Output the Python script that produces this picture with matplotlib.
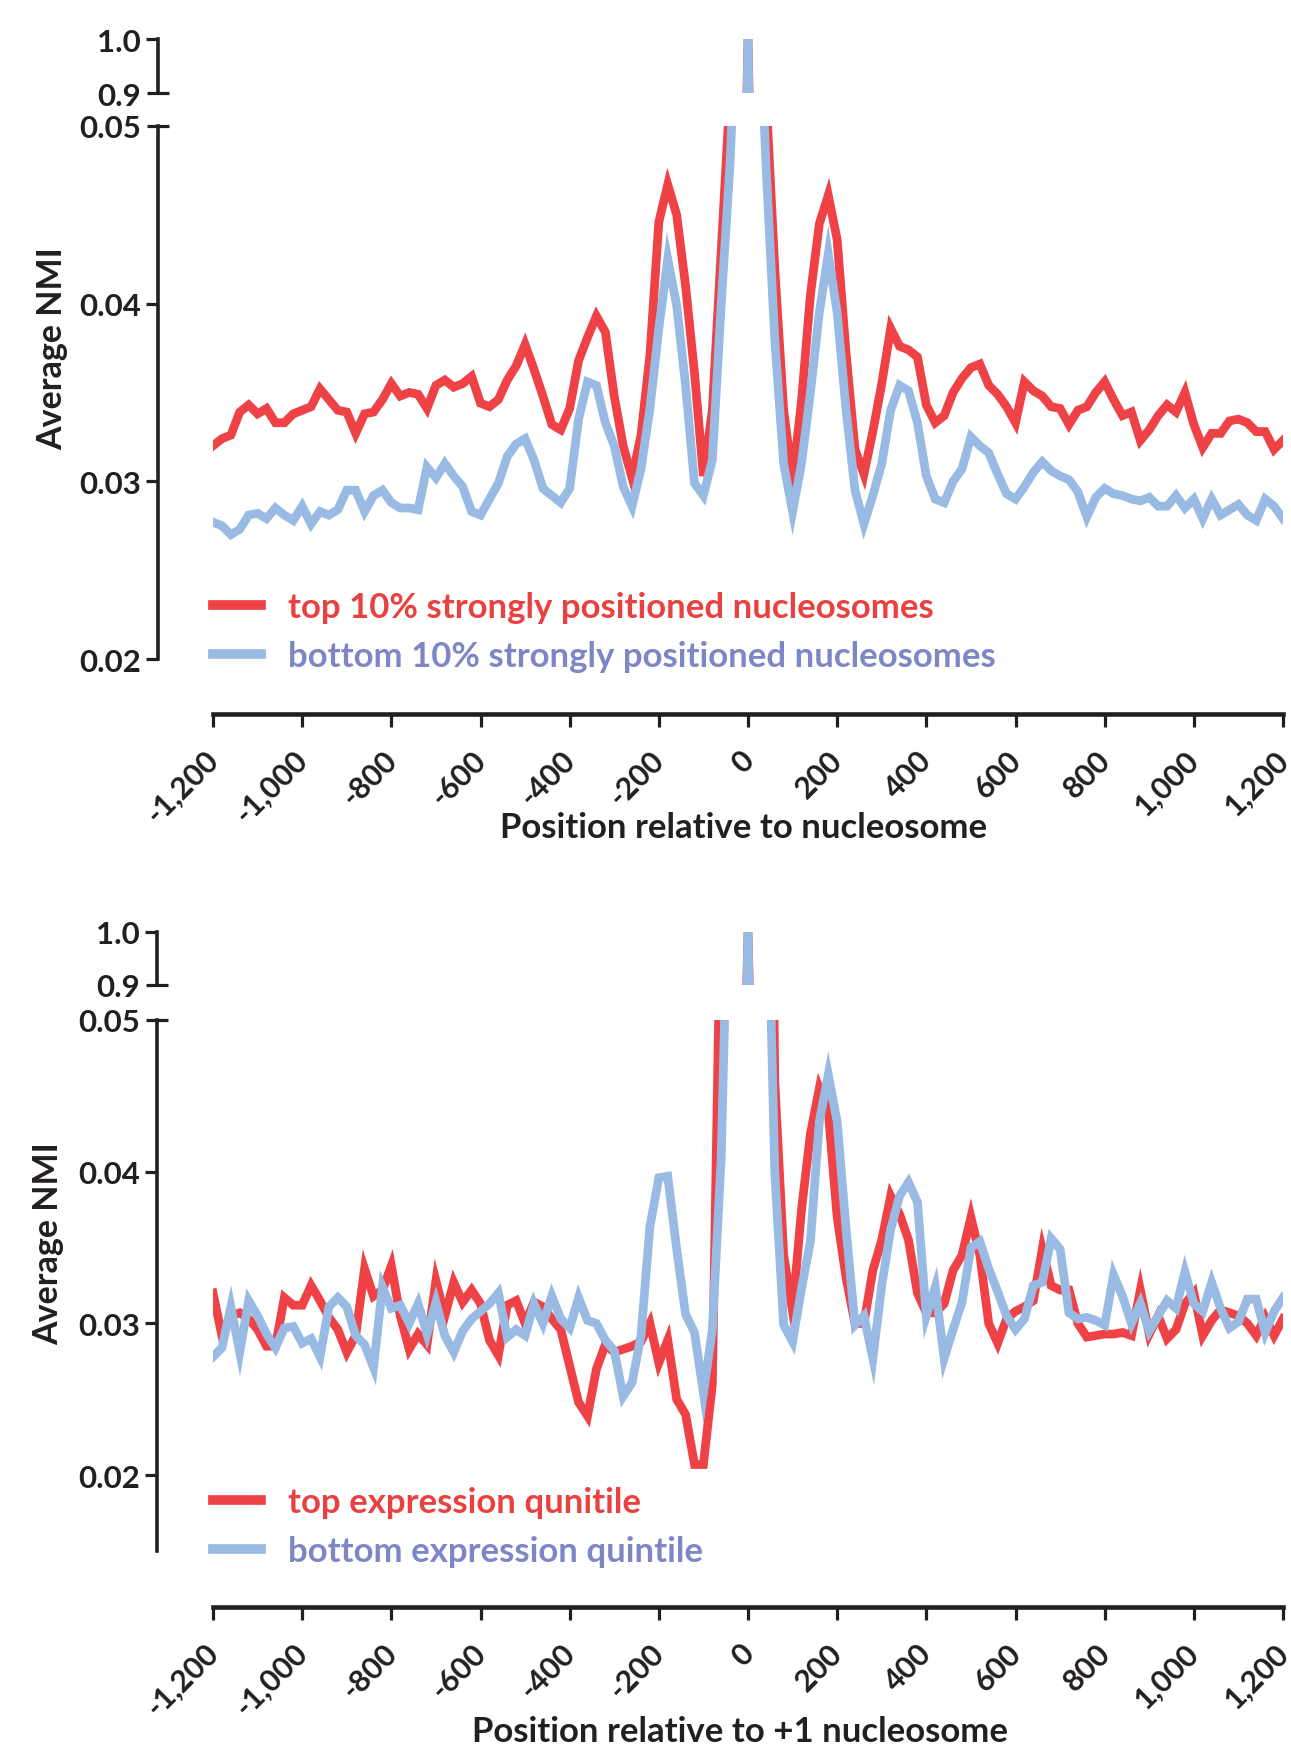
import matplotlib
matplotlib.use("Agg")
import matplotlib.pyplot as plt
import numpy as np
from matplotlib.transforms import ScaledTranslation

# ---------------- data ----------------
positions = np.arange(-1200, 1201, 20)
x_ticks = [-1200, -1000, -800, -600, -400, -200, 0, 200, 400, 600, 800, 1000, 1200]
x_tick_labels = [f"{v:,}" for v in x_ticks]

top_red = [
    0.0320, 0.0324, 0.0326, 0.0339, 0.0343, 0.0338, 0.0341, 0.0333, 0.0333, 0.0338,
    0.0340, 0.0342, 0.0352, 0.0346, 0.0340, 0.0339, 0.0327, 0.0338, 0.0339, 0.0346,
    0.0355, 0.0348, 0.0350, 0.0349, 0.0341, 0.0354, 0.0357, 0.0353, 0.0355, 0.0359,
    0.0344, 0.0342, 0.0346, 0.0357, 0.0365, 0.0377, 0.0363, 0.0348, 0.0332, 0.0329,
    0.0341, 0.0368, 0.0381, 0.0393, 0.0384, 0.0348, 0.0320, 0.0302, 0.0326, 0.0371,
    0.0446, 0.0467, 0.0450, 0.0410, 0.0361, 0.0303, 0.0340, 0.0430, 0.0520, 0.2,
    1.0,
    0.2, 0.052, 0.042, 0.034, 0.0301, 0.0345, 0.0405, 0.0445, 0.0461, 0.0436,
    0.0372, 0.0318, 0.0304, 0.0328, 0.0355, 0.0386, 0.0376, 0.0374, 0.0370, 0.0343,
    0.0333, 0.0337, 0.0350, 0.0358, 0.0364, 0.0366, 0.0354, 0.0349, 0.0342, 0.0333,
    0.0356, 0.0351, 0.0348, 0.0342, 0.0341, 0.0332, 0.0340, 0.0342, 0.0350, 0.0356,
    0.0346, 0.0337, 0.0339, 0.0323, 0.0329, 0.0337, 0.0343, 0.0339, 0.0350, 0.0332,
    0.0319, 0.0327, 0.0327, 0.0334, 0.0335, 0.0333, 0.0328, 0.0328, 0.0318, 0.0323,
]
top_blue = [
    0.0277, 0.0275, 0.0270, 0.0273, 0.0281, 0.0282, 0.0279, 0.0285, 0.0281, 0.0278,
    0.0286, 0.0276, 0.0283, 0.0281, 0.0284, 0.0295, 0.0295, 0.0283, 0.0292, 0.0295,
    0.0288, 0.0285, 0.0285, 0.0284, 0.0308, 0.0302, 0.0310, 0.0303, 0.0297, 0.0283,
    0.0281, 0.0290, 0.0299, 0.0314, 0.0321, 0.0324, 0.0312, 0.0296, 0.0292, 0.0288,
    0.0296, 0.0335, 0.0356, 0.0354, 0.0333, 0.0320, 0.0297, 0.0286, 0.0307, 0.0341,
    0.0386, 0.0425, 0.0399, 0.0354, 0.0299, 0.0292, 0.0312, 0.0400, 0.0480, 0.06,
    1.0,
    0.06, 0.048, 0.038, 0.0310, 0.0283, 0.0310, 0.0350, 0.0395, 0.0428, 0.0395,
    0.0340, 0.0295, 0.0276, 0.0292, 0.0310, 0.0340, 0.0354, 0.0351, 0.0333, 0.0303,
    0.0290, 0.0288, 0.0300, 0.0307, 0.0325, 0.0320, 0.0316, 0.0304, 0.0293, 0.0290,
    0.0297, 0.0305, 0.0311, 0.0306, 0.0303, 0.0301, 0.0294, 0.0280, 0.0291, 0.0296,
    0.0293, 0.0292, 0.0290, 0.0289, 0.0291, 0.0286, 0.0286, 0.0292, 0.0285, 0.0290,
    0.0279, 0.0290, 0.0281, 0.0284, 0.0287, 0.0281, 0.0278, 0.0290, 0.0286, 0.0279,
]
bottom_red = [
    0.0320, 0.0292, 0.0305, 0.0307, 0.0303, 0.0296, 0.0285, 0.0285, 0.0317, 0.0312,
    0.0312, 0.0325, 0.0315, 0.0304, 0.0296, 0.0281, 0.0292, 0.0336, 0.0318, 0.0322,
    0.0338, 0.0305, 0.0283, 0.0293, 0.0286, 0.0328, 0.0305, 0.0327, 0.0314, 0.0322,
    0.0313, 0.0289, 0.0279, 0.0312, 0.0315, 0.0300, 0.0314, 0.0311, 0.0303, 0.0296,
    0.0272, 0.0248, 0.0239, 0.0270, 0.0286, 0.0281, 0.0283, 0.0285, 0.0288, 0.0300,
    0.0274, 0.0289, 0.0250, 0.0240, 0.0207, 0.0207, 0.0260, 0.060, 0.15, 0.3,
    1.0,
    0.3, 0.10, 0.046, 0.0345, 0.0308, 0.0375, 0.0425, 0.0455, 0.0440, 0.0370,
    0.0330, 0.0300, 0.0300, 0.0335, 0.0355, 0.0384, 0.0372, 0.0355, 0.0320, 0.0307,
    0.0307, 0.0313, 0.0335, 0.0345, 0.0370, 0.0345, 0.0300, 0.0287, 0.0303, 0.0308,
    0.0311, 0.0315, 0.0349, 0.0325, 0.0322, 0.0322, 0.0300, 0.0291, 0.0292, 0.0293,
    0.0293, 0.0294, 0.0292, 0.0322, 0.0293, 0.0305, 0.0290, 0.0296, 0.0313, 0.0320,
    0.0292, 0.0302, 0.0309, 0.0307, 0.0305, 0.0300, 0.0292, 0.0304, 0.0292, 0.0303,
]
bottom_blue = [
    0.0278, 0.0284, 0.0311, 0.0281, 0.0315, 0.0305, 0.0293, 0.0284, 0.0297, 0.0298,
    0.0287, 0.0290, 0.0278, 0.0311, 0.0317, 0.0311, 0.0292, 0.0286, 0.0271, 0.0324,
    0.0310, 0.0312, 0.0300, 0.0313, 0.0293, 0.0314, 0.0292, 0.0281, 0.0295, 0.0303,
    0.0308, 0.0313, 0.0320, 0.0291, 0.0296, 0.0292, 0.0313, 0.0300, 0.0318, 0.0303,
    0.0297, 0.0317, 0.0302, 0.0300, 0.0289, 0.0282, 0.0252, 0.0261, 0.0292, 0.0364,
    0.0396, 0.0397, 0.0349, 0.0306, 0.0294, 0.0254, 0.0296, 0.0410, 0.065, 0.2,
    1.0,
    0.2, 0.065, 0.040, 0.0299, 0.0288, 0.0323, 0.0354, 0.0433, 0.0464, 0.0433,
    0.0362, 0.0299, 0.0305, 0.0277, 0.0325, 0.0362, 0.0384, 0.0393, 0.0380, 0.0305,
    0.0324, 0.0277, 0.0296, 0.0314, 0.0350, 0.0354, 0.0336, 0.0321, 0.0305, 0.0296,
    0.0303, 0.0325, 0.0327, 0.0356, 0.0349, 0.0307, 0.0303, 0.0304, 0.0302, 0.0299,
    0.0332, 0.0318, 0.0300, 0.0313, 0.0295, 0.0305, 0.0315, 0.0310, 0.0334, 0.0313,
    0.0308, 0.0327, 0.0310, 0.0297, 0.0301, 0.0316, 0.0316, 0.0294, 0.0308, 0.0317,
]

main_yticks = [0.02, 0.03, 0.04]
main_ytick_labels = ["0.02", "0.03", "0.04"]
break_low_label = "0.05"
top_ytick = [1.0]
top_ytick_label = ["1.0"]
break_high_label = "0.9"

panels = [
    dict(red=top_red, blue=top_blue,
         labels=["top 10% strongly positioned nucleosomes",
                 "bottom 10% strongly positioned nucleosomes"],
         xlabel="Position relative to nucleosome", ymin=0.02),
    dict(red=bottom_red, blue=bottom_blue,
         labels=["top expression qunitile", "bottom expression quintile"],
         xlabel="Position relative to +1 nucleosome", ymin=0.015),
]

# ---------------- style ----------------
plt.rcParams["font.family"] = ["Lato", "DejaVu Sans"]
plt.rcParams["font.weight"] = "bold"
RED = "#EE4246"
BLUE = "#99BBE3"
RED_TXT = "#E8413F"
BLUE_TXT = "#7E86C5"
INK = "#231F20"

W, H = 1291, 1749
fig = plt.figure(figsize=(W / 100, H / 100), dpi=100)
PX = 0.72  # points per pixel at dpi 100


def rect(left, top, right, bottom):
    return [left / W, 1 - bottom / H, (right - left) / W, (bottom - top) / H]


geoms = [
    dict(top=(213, 40, 1283, 94), main=(213, 127, 1283, 660), yoff=55, xoff=55,
         leg_y=0.0516, xlab=(744, 828), ylab=(52, 349)),
    dict(top=(213, 933, 1283, 986), main=(213, 1021, 1283, 1552), yoff=56, xoff=56,
         leg_y=0.046, xlab=(740, 1732), ylab=(48, 1244)),
]

LW = 6.3
FS_Y = 22.5
FS_X = 22
FS_TXT = 25

for p, g in zip(panels, geoms):
    ax_t = fig.add_axes(rect(*g["top"]))
    ax_m = fig.add_axes(rect(*g["main"]))
    for ax in (ax_t, ax_m):
        ax.patch.set_alpha(0)
        ax.set_xlim(-1200, 1200)
        for s in ("top", "right"):
            ax.spines[s].set_visible(False)
        ax.spines["left"].set_position(("outward", g["yoff"] * PX))
        ax.spines["left"].set_linewidth(2.6)
        ax.spines["left"].set_color(INK)
        ax.plot(positions, p["red"], color=RED, lw=LW, solid_joinstyle="miter")
        ax.plot(positions, p["blue"], color=BLUE, lw=LW, solid_joinstyle="miter")
        ax.tick_params(axis="y", which="major", direction="out", length=12 * PX,
                       width=2.3, labelsize=FS_Y, pad=3.5, colors=INK)
        ax.tick_params(axis="y", which="minor", direction="inout", length=22 * PX,
                       width=2.3, labelsize=FS_Y, pad=3.5 + 12 * PX - 11 * PX,
                       colors=INK)

    # top segment
    ax_t.set_ylim(0.9, 1.0)
    ax_t.spines["bottom"].set_visible(False)
    ax_t.set_xticks([])
    ax_t.set_yticks(top_ytick)
    ax_t.set_yticklabels(top_ytick_label)
    ax_t.set_yticks([0.9], minor=True)
    ax_t.set_yticklabels([break_high_label], minor=True)

    # main segment
    ax_m.set_ylim(p["ymin"], 0.05)
    ax_m.set_yticks(main_yticks)
    ax_m.set_yticklabels(main_ytick_labels)
    ax_m.set_yticks([0.05], minor=True)
    ax_m.set_yticklabels([break_low_label], minor=True)
    ax_m.spines["bottom"].set_position(("outward", g["xoff"] * PX))
    ax_m.spines["bottom"].set_linewidth(3.3)
    ax_m.spines["bottom"].set_color(INK)
    ax_m.set_xticks(x_ticks)
    ax_m.set_xticklabels(x_tick_labels)
    ax_m.tick_params(axis="x", direction="out", length=13 * PX, width=2.3,
                     labelsize=FS_X, pad=13, colors=INK)
    shift = ScaledTranslation(-9 / 100, 0, fig.dpi_scale_trans)
    for lbl in ax_m.get_xticklabels():
        lbl.set_rotation(45)
        lbl.set_rotation_mode("anchor")
        lbl.set_ha("right")
        lbl.set_va("top")
        lbl.set_transform(lbl.get_transform() + shift)

    leg = ax_m.legend(ax_m.get_lines(), p["labels"], loc="center left",
                      bbox_to_anchor=(0.0, g["leg_y"]), frameon=False,
                      fontsize=FS_TXT, handlelength=1.38, handletextpad=0.78,
                      labelspacing=0.48, borderpad=0, borderaxespad=0,
                      labelcolor=[RED_TXT, BLUE_TXT])
    for h in leg.get_lines():
        h.set_linewidth(7)

    fig.text(g["xlab"][0] / W, 1 - g["xlab"][1] / H, p["xlabel"], ha="center",
             va="center", fontsize=FS_TXT, color=INK)
    fig.text(g["ylab"][0] / W, 1 - g["ylab"][1] / H, "Average NMI", ha="center",
             va="center", rotation=90, fontsize=24.5, color=INK)

fig.savefig("out.png", dpi=100)
